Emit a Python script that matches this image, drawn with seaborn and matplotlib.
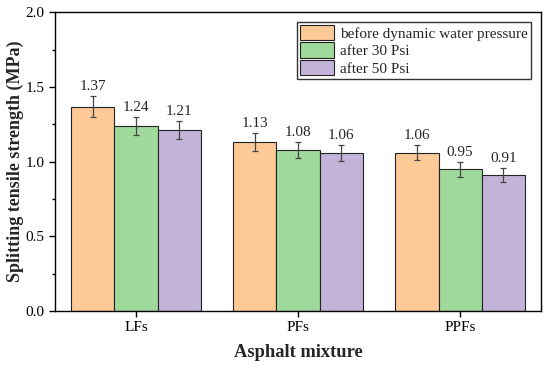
import pandas as pd
import matplotlib.pyplot as plt
import seaborn as sns
from matplotlib.ticker import MultipleLocator

# Daten
mixtures = ["LFs", "PFs", "PPFs"]
conditions = ["before dynamic water pressure", "after 30 Psi", "after 50 Psi"]
before_vals = [1.37, 1.13, 1.06]
psi30_vals = [1.24, 1.08, 0.95]
psi50_vals = [1.21, 1.06, 0.91]
before_err = [0.07, 0.06, 0.05]
psi30_err = [0.06, 0.055, 0.05]
psi50_err = [0.06, 0.055, 0.047]

colors = ["#FDC997", "#9FD99C", "#C3B3D9"]


def main():
    rows = []
    for cond, vals, errs in zip(conditions,
                                [before_vals, psi30_vals, psi50_vals],
                                [before_err, psi30_err, psi50_err]):
        for m, v, e in zip(mixtures, vals, errs):
            rows.append({"mixture": m, "condition": cond, "strength": v, "err": e})
    df = pd.DataFrame(rows)

    sns.set_theme(style="ticks")
    plt.rcParams["font.family"] = ["Liberation Serif", "DejaVu Serif"]
    plt.rcParams.update({
        "axes.edgecolor": "black",
        "axes.linewidth": 1.0,
        "xtick.color": "black",
        "ytick.color": "black",
    })

    fig, ax = plt.subplots(figsize=(5.5, 3.67), dpi=100)
    sns.barplot(data=df, x="mixture", y="strength", hue="condition",
                order=mixtures, hue_order=conditions, palette=colors,
                errorbar=None, edgecolor="#222222", linewidth=0.8,
                width=0.8, saturation=1, ax=ax)

    # Fehlerbalken und Werte über den Balken
    for cond, container in zip(conditions, ax.containers):
        sub = df[df["condition"] == cond].set_index("mixture").loc[mixtures]
        for bar, (_, r) in zip(container.patches, sub.iterrows()):
            xc = bar.get_x() + bar.get_width() / 2
            ax.errorbar(xc, r["strength"], yerr=r["err"], fmt="none",
                        ecolor="#444444", elinewidth=0.9, capsize=2.5,
                        capthick=0.9)
            ax.text(xc, r["strength"] + r["err"] + 0.02, f"{r['strength']:.2f}",
                    ha="center", va="bottom", fontsize=11)

    ax.set_ylim(0, 2.0)
    ax.set_xlim(-0.5, 2.5)
    ax.yaxis.set_major_locator(MultipleLocator(0.5))
    ax.yaxis.set_minor_locator(MultipleLocator(0.25))
    ax.yaxis.set_major_formatter(plt.FuncFormatter(lambda v, p: f"{v:.1f}"))
    ax.tick_params(axis="both", which="major", direction="out", length=4,
                   width=1, labelsize=11)
    ax.tick_params(axis="y", which="minor", direction="out", length=2.5, width=1)
    for sp in ax.spines.values():
        sp.set_visible(True)
        sp.set_color("black")

    ax.set_xlabel("Asphalt mixture", fontsize=13.3, fontweight="bold", labelpad=7)
    ax.set_ylabel("Splitting tensile strength (MPa)", fontsize=13,
                  fontweight="bold", labelpad=1)

    leg = ax.legend(loc="upper right", bbox_to_anchor=(0.985, 0.98),
                    frameon=True, fancybox=False, edgecolor="black",
                    fontsize=11, handlelength=2.2, handleheight=1.2,
                    handletextpad=0.4, borderpad=0.2, labelspacing=0.1,
                    borderaxespad=0.2)
    leg.get_frame().set_linewidth(1.0)

    fig.subplots_adjust(left=0.1, right=0.984, top=0.966, bottom=0.1526)
    fig.savefig("out.png", dpi=100)
    plt.close(fig)


if __name__ == "__main__":
    main()
